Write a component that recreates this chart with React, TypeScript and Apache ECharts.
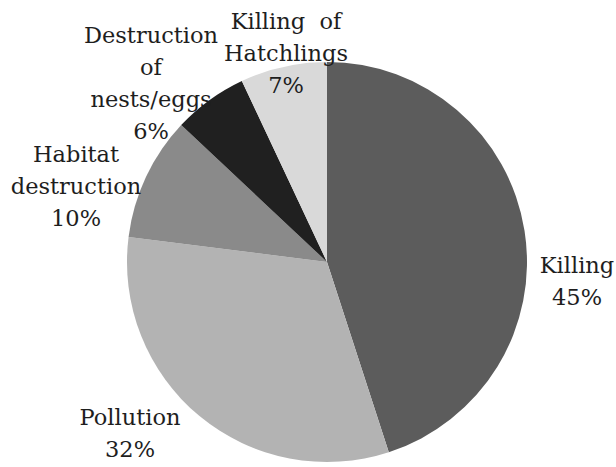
import React, { useEffect, useRef } from "react";
import * as echarts from "echarts";

const categories = [
  "Killing",
  "Pollution",
  "Habitat destruction",
  "Destruction of nests/eggs",
  "Killing of Hatchlings",
];
const values = [45, 32, 10, 6, 7];
const labelNames = [
  "Killing",
  "Pollution",
  "Habitat\ndestruction",
  "Destruction\nof\nnests/eggs",
  "Killing  of\nHatchlings",
];
const colors = ["#5c5c5c", "#b3b3b3", "#8a8a8a", "#202020", "#d9d9d9"];
const labelAnchors = [
  [577, 281],
  [130, 433],
  [76, 186],
  [151, 83],
  [286, 53],
];

export default function App() {
  const ref = useRef<HTMLDivElement>(null);
  useEffect(() => {
    document.body.style.margin = "0";
    const chart = echarts.init(ref.current!, null, { renderer: "svg" });
    chart.setOption({
      animation: false,
      backgroundColor: "#ffffff",
      series: [
        {
          type: "pie",
          center: [327, 262],
          radius: 200,
          startAngle: 90,
          clockwise: true,
          avoidLabelOverlap: false,
          itemStyle: { borderWidth: 0 },
          label: {
            show: true,
            position: "outside",
            fontFamily: "DejaVu Serif",
            fontSize: 22.5,
            lineHeight: 32,
            color: "#1e1e1e",
            align: "center",
            formatter: (p: any) => `${labelNames[p.dataIndex]}\n${p.value}%`,
          },
          labelLine: { show: false },
          labelLayout: (p: any) => ({
            x: labelAnchors[p.dataIndex][0],
            y: labelAnchors[p.dataIndex][1],
            align: "center",
            verticalAlign: "middle",
          }),
          data: categories.map((c, i) => ({
            name: c,
            value: values[i],
            itemStyle: { color: colors[i] },
          })),
        },
      ],
    });
    return () => chart.dispose();
  }, []);
  return <div ref={ref} style={{ width: 616, height: 467 }} />;
}
